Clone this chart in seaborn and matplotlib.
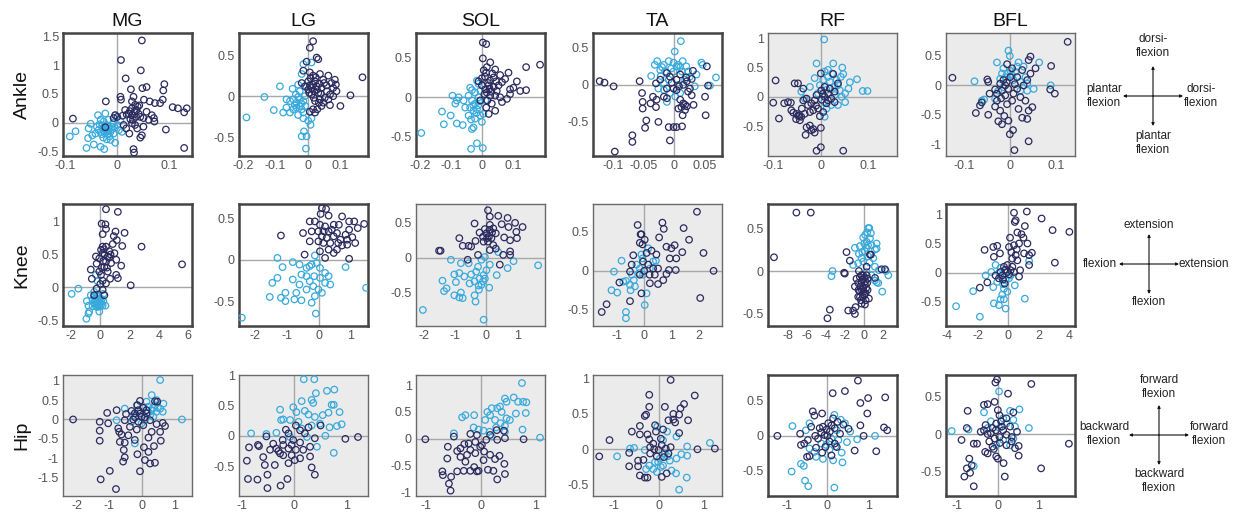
import matplotlib
matplotlib.use("Agg")
import matplotlib.pyplot as plt
import seaborn as sns
import pandas as pd

sns.set_style("white")
plt.rcParams["font.family"] = ["Liberation Sans", "DejaVu Sans"]

# ---------------- data (x, y) pairs ----------------
ROWS = ["Ankle", "Knee", "Hip"]
MUSCLES = ["MG", "LG", "SOL", "TA", "RF", "BFL"]
SERIES = ["light", "dark"]
COLORS = {"dark": "#2b2a5e", "light": "#37a9dc"}

ANKLE_MG_DARK = [(0.047,1.43),(0.007,1.09),(0.045,0.91),(0.016,0.77),(0.09,0.67),(0.088,0.56),(0.048,0.60),(0.056,0.62),(-0.022,0.37),(0.006,0.45),(0.007,0.40),(0.026,0.58),(0.031,0.45),(0.051,0.40),(0.062,0.37),(0.072,0.34),(0.087,0.40),(0.082,0.34),(0.106,0.27),(0.116,0.25),(0.133,0.25),(0.128,0.18),(0.093,-0.12),(0.128,-0.44),(0.031,-0.46),(0.032,-0.52),(-0.085,0.07),(0.015,0.22),(0.022,0.16),(0.028,0.13),(0.034,0.31),(0.037,0.22),(0.044,0.10),(0.050,0.08),(0.066,0.13),(0.07,0.08),(0.071,0.02),(0.034,-0.04),(0.017,-0.10),(0.023,-0.19),(0.044,-0.26),(0.047,-0.22),(0.012,-0.04),(-0.004,0.13),(-0.007,0.08),(0.0,0.10),(0.025,0.06),(0.056,0.19),(0.028,0.25),(0.039,0.28),(0.028,0.37),(0.05,-0.07),(0.028,-0.01),(-0.023,-0.08),(0.018,0.14),(0.033,0.19),(0.041,0.15),(0.036,0.10),(0.024,0.20),(0.010,0.12),(0.042,0.30),(0.030,0.05),(0.060,0.05),(0.038,-0.10)]
ANKLE_MG_LIGHT = [(-0.091,-0.24),(-0.08,-0.15),(-0.059,-0.44),(-0.056,-0.27),(-0.051,-0.02),(-0.055,-0.10),(-0.045,-0.38),(-0.037,0.13),(-0.032,-0.42),(-0.025,-0.46),(-0.02,-0.29),(-0.023,0.16),(-0.032,-0.16),(-0.039,-0.07),(-0.029,-0.06),(-0.02,-0.10),(-0.013,-0.16),(-0.026,0.02),(-0.017,0.05),(-0.008,0.0),(-0.004,-0.35),(-0.013,-0.30),(0.0,-0.04),(0.003,-0.13),(-0.007,-0.19),(-0.025,-0.14),(-0.042,-0.19),(-0.048,-0.22),(-0.018,-0.20),(-0.004,0.13),(0.006,0.03),(0.009,-0.16),(-0.032,0.05),(-0.036,-0.13),(-0.021,-0.04),(-0.010,-0.07),(-0.015,-0.24),(-0.027,-0.26),(-0.022,-0.12),(-0.016,-0.08),(-0.028,-0.10),(-0.012,-0.12),(-0.020,-0.05),(-0.024,-0.18),(-0.005,-0.09),(-0.034,-0.03),(-0.018,-0.15),(-0.030,-0.20)]

ANKLE_LG_DARK = [(0.016,0.67),(0.006,0.59),(-0.004,0.42),(0.027,0.47),(0.032,0.45),(0.168,0.23),(0.131,0.01),(0.10,-0.12),(0.068,-0.11),(0.042,-0.12),(0.016,-0.16),(0.006,-0.19),(0.022,-0.20),(-0.019,0.16),(-0.014,0.31),(0.006,0.29),(0.016,0.25),(0.037,0.27),(0.047,0.20),(0.063,0.25),(0.083,0.20),(0.073,0.16),(0.078,0.10),(0.068,0.02),(0.052,-0.02),(0.037,-0.04),(0.022,-0.06),(0.011,0.02),(0.001,0.08),(0.027,0.12),(0.042,0.10),(0.057,0.13),(0.022,0.18),(0.001,0.18),(-0.009,0.12),(0.032,0.04),(0.047,-0.08),(0.063,-0.04),(0.078,0.0),(0.088,0.06),(0.086,0.14),(0.029,-0.16),(0.012,0.10),(0.020,0.06),(0.035,0.15),(0.008,0.22),(0.004,0.04),(0.015,0.14),(0.028,0.08),(0.040,0.03),(0.018,-0.02),(0.006,0.13),(0.050,0.16),(0.024,0.23),(0.034,-0.08),(0.058,0.06)]
ANKLE_LG_LIGHT = [(-0.189,-0.26),(-0.134,-0.01),(-0.105,-0.17),(-0.086,0.12),(-0.076,-0.20),(-0.066,-0.14),(-0.055,-0.06),(-0.047,0.09),(-0.037,0.02),(-0.04,-0.11),(-0.030,-0.23),(-0.025,-0.04),(-0.019,-0.16),(-0.014,-0.27),(-0.019,-0.49),(-0.004,-0.49),(-0.006,-0.64),(-0.012,-0.43),(0.008,-0.35),(0.001,-0.30),(0.011,-0.27),(-0.055,-0.20),(-0.045,-0.16),(-0.035,-0.08),(-0.025,-0.12),(-0.014,-0.06),(-0.009,0.0),(-0.025,0.06),(-0.019,0.27),(-0.014,0.39),(0.011,0.41),(-0.004,0.12),(-0.030,0.14),(-0.045,-0.04),(-0.066,-0.04),(-0.014,-0.20),(-0.035,-0.14),(-0.020,-0.09),(-0.030,-0.01),(-0.008,-0.12)]

ANKLE_SOL_DARK = [(0.003,0.69),(0.014,0.67),(0.003,0.49),(0.027,0.44),(0.016,0.38),(0.043,0.35),(0.059,0.28),(0.086,0.31),(0.113,0.20),(0.143,0.38),(0.188,0.41),(0.143,0.09),(0.124,0.08),(0.102,0.12),(0.091,0.04),(0.081,-0.02),(0.065,-0.06),(0.043,-0.17),(0.022,-0.21),(0.014,-0.13),(0.0,0.24),(-0.011,0.20),(0.027,0.21),(0.038,0.25),(0.022,0.15),(0.038,0.13),(0.048,0.08),(0.011,0.10),(0.008,0.04),(0.027,0.02),(0.043,0.02),(0.054,0.15),(0.065,0.19),(0.075,0.23),(0.014,0.31),(0.0,0.15),(-0.005,-0.04),(0.018,-0.04),(0.032,-0.08),(0.059,0.0),(0.091,0.10),(0.020,0.18),(0.030,0.07),(0.010,0.26),(0.034,0.30),(0.016,0.06),(0.006,0.34),(0.046,0.20),(0.025,0.11)]
ANKLE_SOL_LIGHT = [(-0.196,-0.45),(-0.129,-0.18),(-0.123,-0.34),(-0.101,-0.23),(-0.095,0.02),(-0.086,-0.08),(-0.081,-0.04),(-0.075,0.0),(-0.081,-0.33),(-0.062,-0.35),(-0.054,-0.13),(-0.043,0.02),(-0.038,0.12),(-0.032,-0.04),(-0.027,-0.17),(-0.032,-0.40),(-0.027,-0.38),(-0.035,-0.65),(-0.016,-0.58),(0.003,-0.64),(-0.011,0.17),(-0.016,0.21),(-0.022,0.06),(-0.005,0.08),(-0.011,0.0),(-0.022,-0.08),(-0.038,-0.13),(-0.016,-0.15),(-0.005,-0.23),(-0.022,-0.27),(0.0,-0.31),(0.005,-0.21),(-0.043,-0.23),(-0.059,-0.04),(-0.032,0.09),(0.011,-0.04),(-0.028,-0.10),(-0.012,-0.10),(-0.018,-0.20),(-0.035,-0.28),(-0.008,-0.05)]

ANKLE_TA_DARK = [(-0.123,0.05),(-0.115,0.03),(-0.10,-0.02),(-0.098,-0.90),(-0.069,-0.68),(-0.069,-0.77),(-0.057,0.05),(-0.053,-0.11),(-0.052,-0.23),(-0.052,-0.32),(-0.046,-0.48),(-0.048,-0.58),(-0.039,-0.25),(-0.035,-0.16),(-0.030,-0.30),(-0.029,-0.20),(-0.026,-0.50),(-0.030,0.02),(-0.023,0.07),(-0.017,-0.16),(-0.012,-0.05),(-0.009,-0.57),(-0.007,-0.75),(-0.001,-0.57),(0.004,-0.57),(0.013,-0.56),(0.007,-0.32),(0.010,-0.20),(0.015,-0.25),(0.021,-0.29),(0.018,-0.34),(0.014,-0.41),(0.032,-0.27),(0.029,-0.14),(0.051,-0.16),(0.052,-0.41),(0.054,0.25),(0.056,-0.01),(0.031,0.19),(0.029,0.08),(0.021,0.05),(0.01,0.14),(0.004,0.07),(-0.001,-0.05),(-0.007,0.11),(-0.012,0.16),(0.015,0.0),(0.023,-0.09),(0.004,-0.07),(-0.012,-0.18),(0.018,-0.27),(0.012,-0.30),(0.020,0.10),(0.008,-0.02),(-0.004,0.03),(0.026,-0.05)]
ANKLE_TA_LIGHT = [(0.011,0.59),(0.001,0.45),(-0.028,0.32),(-0.032,0.27),(-0.038,0.12),(-0.023,0.20),(-0.017,0.27),(-0.009,0.32),(-0.001,0.30),(0.007,0.27),(0.014,0.32),(0.020,0.25),(0.023,0.18),(0.026,0.11),(0.037,0.14),(0.045,0.30),(0.047,0.27),(0.069,0.10),(0.059,-0.01),(0.034,-0.02),(-0.012,-0.23),(-0.017,0.02),(-0.009,0.07),(-0.001,0.18),(0.004,0.25),(0.013,0.18),(0.018,0.07),(-0.007,-0.11),(0.002,-0.16),(-0.017,-0.07),(-0.026,-0.05),(-0.022,0.12),(-0.015,0.18),(0.007,0.0),(0.010,-0.11),(-0.005,0.22),(0.010,0.24),(-0.020,0.24)]

ANKLE_RF_DARK = [(-0.095,0.28),(-0.10,-0.10),(-0.088,-0.37),(-0.077,-0.11),(-0.069,-0.09),(-0.063,-0.10),(-0.062,-0.23),(-0.055,0.23),(-0.048,0.23),(-0.058,-0.27),(-0.051,-0.29),(-0.044,-0.40),(-0.048,-0.32),(-0.041,-0.34),(-0.037,0.14),(-0.034,-0.29),(-0.030,-0.52),(-0.032,-0.65),(-0.023,-0.49),(-0.020,-0.57),(-0.013,-0.61),(-0.016,-0.55),(-0.009,-0.92),(0.0,-0.86),(0.0,-0.53),(-0.002,-0.33),(0.005,-0.26),(0.0,0.40),(0.026,0.39),(0.047,-0.92),(-0.037,-0.06),(-0.030,-0.03),(-0.027,-0.14),(-0.020,-0.11),(-0.013,-0.06),(-0.009,0.03),(0.001,0.11),(0.008,0.17),(0.015,0.06),(0.022,-0.03),(0.029,-0.09),(0.036,0.23),(0.012,-0.11),(-0.006,-0.20),(-0.016,-0.23),(-0.023,-0.26),(0.019,0.14),(0.029,0.09),(0.008,0.0),(-0.045,-0.33),(-0.052,-0.38),(0.002,-0.05),(-0.010,-0.15),(0.004,0.05),(-0.040,-0.20),(0.015,-0.06)]
ANKLE_RF_LIGHT = [(0.007,0.98),(-0.009,0.57),(0.026,0.57),(0.045,0.50),(0.015,0.46),(0.008,0.43),(0.047,0.39),(0.042,0.34),(0.061,0.25),(0.076,0.30),(0.088,0.10),(0.098,0.10),(0.051,-0.09),(0.036,-0.14),(0.029,0.03),(-0.013,0.32),(-0.023,0.17),(-0.034,-0.03),(-0.041,0.09),(0.005,0.29),(0.015,0.34),(0.033,0.29),(0.029,0.17),(0.040,0.11),(0.051,0.06),(0.044,0.0),(0.022,-0.14),(0.008,-0.34),(0.007,-0.09),(-0.006,0.06),(-0.002,0.20),(0.019,0.26),(0.058,0.14),(0.012,-0.20),(0.024,0.40),(0.036,0.20),(0.012,0.12)]

ANKLE_BFL_DARK = [(0.125,0.74),(-0.126,0.13),(-0.075,-0.47),(-0.062,-0.29),(-0.066,-0.34),(-0.050,0.10),(-0.048,0.06),(-0.048,-0.50),(-0.045,-0.14),(-0.033,-0.07),(-0.033,-0.36),(-0.029,-0.26),(-0.026,-0.61),(-0.018,-0.66),(-0.022,-0.43),(-0.013,-0.52),(-0.007,0.36),(-0.004,-0.60),(-0.001,-0.83),(0.006,-0.76),(0.009,-1.10),(0.018,-0.40),(0.026,-0.55),(0.037,-0.57),(0.040,-0.95),(0.048,-0.37),(0.040,-0.43),(0.033,-0.26),(0.044,0.49),(0.040,0.43),(0.044,0.20),(0.055,0.29),(0.089,0.33),(0.087,-0.07),(0.097,-0.14),(0.026,0.26),(0.015,0.14),(0.004,0.29),(0.0,0.14),(-0.015,0.09),(-0.022,0.03),(-0.011,0.0),(-0.004,-0.06),(-0.018,-0.09),(-0.029,-0.14),(0.007,-0.14),(0.015,-0.06),(0.022,-0.20),(0.004,-0.26),(-0.007,-0.32),(-0.011,-0.17),(0.029,0.0),(0.037,0.09),(-0.008,0.05),(0.010,0.02),(-0.020,-0.22)]
ANKLE_BFL_LIGHT = [(-0.004,0.59),(-0.001,0.50),(-0.029,0.39),(-0.078,0.07),(-0.062,-0.26),(-0.057,-0.24),(-0.033,-0.23),(0.018,0.39),(0.029,0.32),(0.063,0.39),(0.051,-0.06),(0.088,0.0),(0.033,0.14),(0.037,0.03),(0.022,0.06),(0.007,0.09),(-0.007,0.20),(-0.018,0.20),(-0.015,0.29),(-0.022,0.11),(0.011,0.23),(0.015,0.32),(0.004,0.17),(-0.015,-0.03),(-0.026,-0.09),(0.037,-0.09),(0.022,-0.09),(0.000,0.25),(-0.010,0.14)]

KNEE_MG_DARK = [(0.39,1.19),(1.20,1.15),(0.09,0.97),(0.35,0.96),(0.39,0.89),(0.16,0.81),(1.04,0.85),(1.66,0.83),(0.92,0.78),(1.13,0.72),(2.82,0.62),(1.50,0.63),(5.59,0.35),(0.85,0.66),(0.16,0.62),(0.39,0.62),(0.05,0.57),(0.62,0.55),(0.97,0.52),(-0.30,0.47),(-0.07,0.44),(-0.25,0.36),(0.39,0.39),(0.74,0.37),(1.09,0.42),(1.43,0.33),(0.28,0.31),(-0.65,0.27),(-0.07,0.24),(0.51,0.24),(1.09,0.19),(1.20,0.14),(0.67,0.13),(0.16,0.10),(0.39,0.06),(-0.58,0.13),(2.08,0.03),(-0.25,-0.02),(0.16,-0.04),(-0.42,-0.12),(0.28,-0.12),(0.05,0.19),(0.16,0.52),(0.51,0.47),(0.25,0.58),(0.60,0.45),(0.10,0.30),(0.30,0.50),(0.70,0.50),(0.45,0.30),(0.20,0.40),(0.00,0.05)]
KNEE_MG_LIGHT = [(-1.96,-0.10),(-1.50,-0.02),(-0.92,-0.21),(-0.81,-0.28),(-0.76,-0.37),(-0.81,-0.40),(-0.95,-0.48),(-0.42,-0.14),(-0.30,0.19),(-0.18,0.09),(-0.65,-0.12),(-0.53,-0.19),(-0.42,-0.24),(-0.30,-0.29),(-0.07,-0.37),(0.05,-0.27),(0.21,-0.21),(-0.18,-0.17),(-0.07,-0.19),(0.05,-0.22),(-0.30,-0.22),(0.16,-0.28),(-0.53,-0.29),(-0.07,-0.29),(-0.18,-0.24),(-0.42,-0.07),(0.35,-0.28),(-0.12,-0.20),(-0.25,-0.26),(0.10,-0.18),(-0.20,-0.30),(-0.35,-0.18),(0.00,-0.25),(-0.10,-0.14),(-0.25,-0.12),(0.20,-0.10)]

KNEE_LG_DARK = [(0.09,0.62),(0.22,0.61),(0.05,0.55),(0.30,0.53),(0.72,0.52),(1.41,0.43),(1.10,0.46),(0.94,0.46),(0.62,0.42),(-0.29,0.46),(-0.13,0.46),(0.03,0.42),(0.19,0.40),(0.46,0.42),(1.21,0.38),(0.94,0.36),(-1.19,0.29),(-0.50,0.32),(-0.23,0.34),(-0.02,0.34),(0.30,0.34),(0.56,0.32),(0.83,0.30),(1.04,0.27),(1.13,0.20),(0.88,0.18),(0.72,0.17),(0.56,0.12),(0.46,0.08),(0.94,0.01),(-0.45,0.06),(0.19,0.02),(-0.29,0.22),(-0.02,0.22),(0.14,0.20),(0.35,0.20),(0.24,0.26),(0.46,0.28),(0.09,0.28),(0.30,0.12),(0.03,0.10),(0.67,0.24),(0.88,0.24),(0.40,0.36),(0.15,0.34),(0.60,0.20)]
KNEE_LG_LIGHT = [(-2.41,-0.70),(-1.30,0.02),(-1.14,-0.09),(-1.46,-0.28),(-1.54,-0.45),(-1.30,-0.22),(-1.19,-0.46),(-1.05,-0.40),(-1.05,-0.50),(-0.82,-0.24),(-0.77,-0.48),(-0.55,-0.49),(-0.82,-0.03),(-0.61,-0.06),(-0.39,-0.10),(-0.23,-0.06),(-0.13,0.05),(-0.07,-0.04),(-0.55,-0.18),(-0.39,-0.20),(-0.29,-0.26),(-0.18,-0.32),(-0.02,-0.36),(0.09,-0.40),(-0.13,-0.44),(-0.23,-0.52),(-0.10,-0.65),(0.19,-0.16),(0.35,-0.30),(0.83,-0.09),(1.47,-0.34),(-0.39,-0.36),(-0.61,-0.30),(-0.71,-0.40),(0.03,-0.22),(0.19,-0.28),(0.03,-0.10),(0.30,-0.20),(-0.30,-0.08),(-0.15,-0.20)]

KNEE_SOL_DARK = [(0.05,0.68),(0.11,0.59),(0.38,0.60),(0.68,0.57),(0.92,0.50),(1.16,0.44),(-0.38,0.49),(0.49,0.48),(0.71,0.44),(0.96,0.37),(0.98,0.28),(0.76,0.25),(0.57,0.29),(0.30,0.35),(0.11,0.47),(-0.05,0.41),(-0.22,0.36),(-0.11,0.30),(-0.35,0.24),(-0.57,0.17),(-0.87,0.28),(-0.76,0.17),(-0.49,0.16),(-1.52,0.10),(-1.47,0.10),(-0.60,-0.03),(-0.27,0.04),(0.0,0.35),(0.05,0.23),(0.16,0.28),(0.22,0.18),(0.11,0.11),(0.54,0.04),(0.76,0.09),(0.76,0.04),(0.43,-0.10),(0.22,0.42),(-0.09,0.23),(0.30,0.13),(0.08,0.30),(0.18,0.36),(0.10,0.40),(0.02,0.28)]
KNEE_SOL_LIGHT = [(-2.04,-0.75),(-1.14,-0.03),(-1.41,-0.33),(-1.28,-0.44),(-1.36,-0.48),(-1.03,-0.24),(-0.98,-0.35),(-1.03,-0.54),(-0.82,-0.50),(-0.76,-0.58),(-0.87,-0.57),(-0.82,-0.08),(-0.87,-0.22),(-0.71,-0.27),(-0.57,-0.08),(-0.49,-0.24),(-0.54,-0.37),(-0.38,-0.54),(-0.35,-0.63),(-0.24,-0.46),(-0.11,-0.34),(-0.09,-0.25),(-0.27,-0.13),(-0.16,-0.03),(-0.05,0.01),(0.11,-0.10),(0.09,-0.43),(-0.09,-0.89),(0.33,-0.25),(0.38,0.08),(0.87,-0.05),(0.68,-0.15),(1.66,-0.11),(-0.38,-0.34),(-0.22,-0.30),(-0.33,-0.20),(0.0,-0.18),(-0.16,-0.39),(-0.25,-0.40),(-0.05,-0.30)]

KNEE_TA_DARK = [(-1.56,-0.53),(-1.38,-0.43),(-0.91,-0.15),(-0.24,0.59),(-0.13,0.47),(-0.10,0.47),(0.02,0.40),(-0.16,0.36),(-0.06,0.34),(0.67,0.62),(0.72,0.54),(0.55,0.43),(1.45,0.55),(1.65,0.40),(1.94,0.76),(2.18,0.23),(2.55,0.0),(2.06,-0.35),(1.12,0.33),(0.82,0.31),(1.00,0.29),(1.40,0.24),(0.94,0.16),(1.18,0.16),(0.91,0.01),(1.16,0.01),(0.82,-0.04),(0.70,-0.12),(0.51,-0.17),(0.21,-0.16),(0.39,-0.05),(-0.40,0.20),(-0.46,0.08),(-0.52,-0.01),(-0.52,-0.39),(0.09,0.23),(0.27,0.26),(0.45,0.21),(-0.04,0.12),(0.15,0.08),(0.33,0.03),(-0.16,-0.05),(-0.10,-0.29),(0.51,0.03),(0.20,-0.05),(0.00,0.00)]
KNEE_TA_LIGHT = [(-1.11,-0.01),(-1.20,-0.25),(-0.99,-0.28),(-0.83,0.13),(-0.67,-0.13),(-0.67,-0.53),(-0.67,-0.61),(-0.50,-0.25),(-0.38,-0.12),(-0.18,-0.03),(-0.06,0.16),(0.02,-0.44),(0.09,-0.29),(0.15,0.29),(0.33,0.12),(0.43,0.13),(-0.28,0.08),(-0.16,0.03),(-0.04,-0.05),(-0.52,-0.18),(-0.34,-0.20),(-0.77,-0.14),(-0.10,0.21),(0.21,0.03),(-0.45,-0.05)]

KNEE_RF_DARK = [(-7.12,0.68),(-5.61,0.68),(-9.47,0.16),(-3.61,-0.45),(-3.86,-0.55),(-1.86,0.22),(-1.51,0.12),(-2.04,-0.03),(-2.11,-0.02),(-1.68,-0.46),(-1.16,-0.46),(-0.98,-0.50),(-0.91,-0.42),(-0.63,-0.30),(-0.28,-0.38),(0.07,-0.39),(0.49,-0.32),(0.70,0.19),(0.25,0.05),(0.35,-0.09),(-0.11,-0.05),(-0.46,-0.07),(-0.28,-0.13),(0.07,-0.16),(-0.11,-0.20),(-0.46,-0.24),(0.14,-0.26),(-0.63,-0.14),(-0.81,-0.09),(0.25,-0.05),(-0.98,-0.18),(0.0,-0.28),(-0.35,-0.34),(0.35,-0.22),(-0.56,0.0),(1.82,0.02),(2.18,0.02),(1.13,-0.08),(0.60,0.19),(-0.20,-0.10),(0.10,-0.12),(-0.40,-0.18),(0.20,-0.20),(-0.15,-0.30),(-0.30,-0.05),(0.00,-0.08),(-0.60,-0.22),(0.30,-0.14),(-0.05,-0.24),(-0.25,-0.22),(0.15,-0.34),(-0.45,-0.30)]
KNEE_RF_LIGHT = [(-3.33,0.0),(-3.44,-0.06),(0.42,0.50),(-0.11,0.39),(0.70,0.44),(0.25,0.34),(0.77,0.30),(1.30,0.32),(1.30,0.26),(-0.46,0.29),(-0.98,0.27),(-0.56,0.20),(0.07,0.23),(0.42,0.17),(0.95,0.15),(-0.11,0.11),(-0.63,0.09),(-1.16,0.07),(1.12,0.05),(1.54,0.01),(1.12,-0.11),(1.47,-0.14),(1.89,-0.24),(0.25,-0.01),(0.77,-0.05),(-0.28,0.15),(0.25,0.27),(0.60,0.38),(2.53,-0.05),(2.28,0.0),(1.31,-0.13),(0.53,0.50),(1.13,0.25),(0.10,0.42),(0.40,0.30),(-0.20,0.22),(0.55,0.10),(0.00,0.32),(0.30,0.45)]

KNEE_BFL_DARK = [(0.37,1.03),(1.21,1.05),(0.42,0.87),(0.48,0.90),(2.18,0.93),(1.08,0.80),(2.90,0.73),(4.00,0.70),(0.11,0.60),(0.59,0.69),(0.86,0.66),(0.99,0.60),(-1.56,0.39),(-0.99,0.44),(-0.73,0.46),(-0.95,0.27),(-0.55,0.33),(0.04,0.44),(0.37,0.47),(0.70,0.50),(1.25,0.50),(1.03,0.33),(1.54,0.34),(1.36,0.30),(1.36,0.13),(3.05,0.17),(0.26,0.24),(0.59,0.21),(0.77,0.04),(0.70,-0.07),(-0.07,0.13),(-0.29,0.10),(-0.51,0.01),(-0.84,-0.05),(-1.38,-0.17),(-1.87,-0.26),(-0.24,-0.19),(-0.62,-0.10),(0.15,0.04),(0.37,0.01),(-0.07,0.01),(-0.40,-0.05),(0.26,0.10),(0.48,0.30),(-0.20,0.05),(0.05,-0.03),(-0.35,-0.12),(0.55,0.40),(0.20,0.35)]
KNEE_BFL_LIGHT = [(-3.43,-0.58),(-2.31,-0.32),(-1.87,-0.76),(-1.49,-0.05),(-1.12,0.01),(-0.99,-0.25),(-0.95,-0.53),(-0.62,-0.56),(-0.51,-0.46),(-0.29,-0.46),(-0.18,-0.62),(-0.40,-0.38),(-0.73,-0.16),(-0.84,0.13),(-0.51,0.08),(-0.18,-0.13),(-0.29,-0.28),(0.04,-0.10),(0.42,-0.22),(1.08,-0.45),(1.36,0.20),(-0.07,-0.33),(0.15,-0.05),(-0.51,-0.07),(-0.35,-0.20),(-0.60,0.00)]

HIP_MG_DARK = [(-2.11,0.0),(-1.29,-0.06),(-1.29,-0.29),(-1.29,-0.55),(-1.26,-1.55),(-0.98,-1.33),(-0.79,-1.80),(-1.03,-0.10),(-1.06,0.17),(-0.77,0.24),(-0.72,-0.23),(-0.69,-0.32),(-0.62,-0.39),(-0.67,-0.58),(-0.52,-0.60),(-0.55,-0.79),(-0.52,-0.98),(-0.57,-1.09),(-0.48,0.14),(-0.36,-0.19),(-0.41,-0.41),(-0.21,-0.53),(-0.13,-0.90),(-0.05,-1.34),(0.07,-0.72),(0.10,-1.05),(0.21,-0.84),(0.26,-1.14),(0.41,-1.12),(0.38,-0.69),(0.59,-0.55),(0.57,-0.32),(0.72,-0.17),(0.65,-0.09),(0.46,-0.12),(0.48,0.46),(0.41,0.47),(-0.05,0.48),(-0.31,0.22),(-0.21,0.16),(-0.10,0.24),(0.0,0.07),(0.15,0.16),(0.26,-0.02),(0.05,-0.15),(-0.10,-0.06),(-0.26,0.0),(-0.15,-0.26),(0.31,-0.32),(0.21,-0.47),(0.15,0.24),(-0.13,0.37),(-0.52,-0.02),(-0.05,0.15),(0.05,0.30),(-0.20,0.05),(0.10,0.05)]
HIP_MG_LIGHT = [(0.57,1.02),(0.31,0.63),(1.24,0.0),(-0.52,0.28),(-0.77,-0.02),(-0.21,-0.62),(-0.15,0.37),(0.15,0.46),(0.41,0.37),(0.57,0.28),(0.65,0.20),(0.46,0.20),(0.31,0.24),(0.26,0.11),(0.36,0.07),(0.05,0.33),(-0.05,0.20),(0.10,-0.02),(-0.26,0.11),(0.21,0.33),(0.46,0.50),(0.67,0.41),(0.0,-0.10),(-0.31,-0.06),(0.35,0.30),(0.20,0.18),(0.50,0.30)]

HIP_LG_DARK = [(-0.90,-0.41),(-0.86,-0.19),(-0.69,-0.15),(-0.67,-0.17),(-0.88,-0.71),(-0.70,-0.72),(-0.51,-0.86),(-0.51,-0.64),(-0.53,-0.01),(-0.56,-0.48),(-0.59,-0.35),(-0.46,-0.23),(-0.37,-0.48),(-0.27,-0.29),(-0.26,-0.82),(-0.13,-0.71),(-0.11,-0.45),(-0.05,-0.32),(0.01,-0.40),(0.03,-0.23),(-0.02,-0.07),(-0.11,0.04),(-0.16,0.10),(0.03,0.17),(0.11,0.09),(0.11,-0.11),(0.17,-0.23),(0.30,-0.18),(0.30,-0.34),(0.33,-0.52),(0.39,-0.64),(0.39,-0.04),(0.27,0.14),(0.20,0.04),(0.50,0.17),(0.97,-0.05),(1.21,-0.02),(-0.40,-0.13),(-0.21,-0.15),(-0.11,-0.21),(-0.34,-0.21),(-0.21,-0.32),(0.11,-0.37),(-0.22,-0.07),(-0.30,-0.25),(-0.05,-0.15)]
HIP_LG_LIGHT = [(0.18,0.93),(0.38,0.93),(0.41,0.70),(0.62,0.74),(0.76,0.76),(-0.02,0.47),(0.14,0.57),(0.33,0.59),(0.36,0.54),(-0.27,0.43),(-0.21,0.27),(-0.25,0.26),(0.04,0.39),(0.20,0.41),(0.27,0.35),(0.39,0.31),(0.54,0.34),(0.65,0.38),(0.71,0.51),(0.75,0.51),(0.86,0.39),(0.90,0.19),(0.81,0.16),(0.67,0.14),(0.49,0.20),(0.59,0.0),(0.43,-0.18),(0.75,-0.28),(-0.82,0.04),(-0.53,0.03),(-0.34,0.05),(-0.08,0.26),(0.08,0.23),(0.14,0.12),(-0.08,-0.02),(0.24,-0.02),(0.33,0.17)]

HIP_SOL_DARK = [(-1.01,-0.01),(-0.49,0.04),(-0.60,-0.15),(-0.61,-0.37),(-0.70,-0.61),(-0.69,-0.68),(-0.54,-0.71),(-0.58,-0.84),(-0.55,-0.97),(-0.43,-0.61),(-0.37,-0.34),(-0.31,-0.60),(-0.28,-0.43),(-0.19,-0.60),(-0.12,-0.53),(-0.07,-0.61),(-0.04,-0.60),(0.13,-0.58),(0.23,-0.60),(0.30,-0.76),(0.44,-0.66),(0.43,-0.47),(0.34,-0.32),(0.26,-0.38),(0.17,-0.30),(0.06,-0.24),(-0.10,-0.27),(-0.19,-0.21),(-0.25,-0.30),(-0.37,-0.18),(-0.43,-0.23),(-0.22,-0.09),(-0.10,-0.06),(0.02,-0.12),(0.10,-0.02),(0.17,0.07),(0.29,0.16),(0.42,0.15),(0.44,0.01),(0.30,-0.02),(0.78,-0.01),(-0.07,0.07),(-0.19,0.09),(-0.01,-0.15),(-0.30,-0.10),(0.05,-0.40)]
HIP_SOL_LIGHT = [(0.75,1.04),(0.44,0.75),(0.47,0.69),(0.60,0.77),(0.68,0.69),(0.77,0.69),(0.83,0.68),(0.82,0.48),(0.64,0.47),(0.53,0.35),(0.47,0.38),(0.38,0.50),(0.30,0.57),(0.35,0.60),(0.20,0.57),(0.12,0.50),(0.17,0.44),(0.26,0.35),(0.36,0.29),(0.44,0.24),(0.28,0.21),(0.16,0.13),(0.05,0.15),(-0.04,0.17),(-0.12,0.44),(-0.28,0.44),(-0.34,0.40),(-0.13,0.21),(-0.49,0.10),(0.76,0.17),(1.08,0.02),(0.08,0.35),(0.44,0.13),(0.20,0.04)]

HIP_TA_DARK = [(0.27,0.98),(-0.21,0.77),(0.81,0.76),(-0.21,0.60),(0.14,0.60),(0.57,0.64),(0.49,0.58),(0.46,0.49),(0.33,0.50),(0.33,0.42),(0.37,0.38),(0.22,0.41),(-0.31,0.47),(-0.28,0.49),(-0.42,0.33),(-0.60,0.25),(-1.10,0.13),(-1.33,-0.10),(-0.42,0.21),(-0.25,0.21),(-0.21,0.14),(-0.08,0.34),(-0.06,0.25),(0.10,0.28),(0.46,0.23),(0.66,0.41),(0.87,0.0),(1.26,0.01),(-0.66,-0.05),(-0.66,-0.24),(-0.46,-0.16),(-0.46,-0.24),(-0.34,-0.15),(-0.42,-0.37),(-0.31,-0.40),(-0.25,-0.40),(0.07,-0.39),(0.18,-0.34),(-0.19,0.03),(-0.12,0.08),(0.0,-0.01),(0.07,0.06),(0.16,0.01),(0.22,-0.06),(0.12,-0.11),(-0.04,-0.10),(0.27,0.03),(-0.19,-0.06),(0.05,0.15),(-0.10,0.00)]
HIP_TA_LIGHT = [(-0.93,-0.10),(-0.64,0.01),(-0.55,0.02),(-0.31,-0.01),(-0.28,-0.28),(-0.21,-0.23),(-0.12,-0.28),(-0.04,-0.32),(-0.01,-0.18),(0.10,-0.23),(0.29,-0.30),(0.39,-0.34),(0.46,-0.57),(0.63,-0.40),(0.40,-0.13),(0.51,-0.07),(0.64,0.04),(0.64,-0.09),(0.40,0.18),(0.19,0.25),(0.10,0.13),(0.14,-0.06),(1.15,0.09),(-0.03,0.32),(0.03,-0.13),(0.25,-0.16),(-0.08,-0.18),(0.20,-0.10),(0.05,-0.25)]

HIP_RF_DARK = [(-1.23,0.0),(0.75,0.79),(0.43,0.64),(0.13,0.61),(0.81,0.47),(1.00,0.54),(0.98,0.32),(1.42,0.55),(1.39,0.12),(1.20,-0.22),(0.89,0.0),(0.81,0.15),(0.67,-0.21),(0.52,0.10),(0.39,0.16),(-0.36,0.35),(-0.32,0.29),(-0.13,0.32),(-0.67,0.03),(-0.65,-0.13),(-0.57,-0.11),(-0.50,-0.30),(-0.44,-0.29),(-0.28,-0.17),(-0.13,-0.24),(-0.05,-0.16),(0.18,-0.11),(0.23,-0.16),(0.10,-0.28),(-0.19,0.11),(-0.11,0.13),(0.02,0.18),(0.14,0.25),(0.06,0.06),(-0.07,0.01),(0.18,0.11),(0.31,0.03),(-0.23,-0.04),(-0.40,0.13),(-0.48,-0.06),(1.47,0.08),(0.05,-0.08),(-0.02,0.09),(-0.15,0.05),(0.10,0.15),(0.00,0.00),(-0.30,0.00),(0.25,0.20)]
HIP_RF_LIGHT = [(-0.88,-0.51),(-0.86,0.14),(-0.55,-0.64),(-0.47,-0.72),(-0.58,-0.43),(-0.65,-0.40),(0.17,-0.74),(0.14,-0.35),(0.37,-0.38),(0.35,-0.24),(0.48,-0.09),(0.56,0.06),(0.73,-0.05),(1.17,0.0),(0.33,0.23),(0.17,0.30),(-0.44,0.18),(-0.53,0.08),(-0.44,-0.18),(-0.32,-0.23),(-0.15,-0.11),(-0.03,-0.13),(0.10,-0.04),(0.27,-0.06),(-0.11,-0.33),(-0.28,-0.30),(0.23,0.08),(0.43,0.18),(0.05,-0.20),(0.20,-0.15)]

HIP_BFL_DARK = [(-0.02,0.73),(-0.06,0.69),(0.82,0.67),(0.25,0.54),(-0.08,0.43),(-0.34,0.39),(-0.25,0.40),(-0.74,0.31),(0.0,0.32),(0.04,0.25),(0.38,0.29),(0.21,0.21),(-0.76,0.08),(-0.89,-0.08),(-0.59,-0.13),(-0.51,-0.13),(-0.34,0.05),(-0.30,0.12),(-0.31,-0.24),(-0.25,-0.26),(-0.70,-0.33),(-0.76,-0.46),(-0.68,-0.52),(-0.82,-0.57),(-0.59,-0.70),(-0.64,-0.42),(-0.04,-0.30),(0.0,-0.33),(0.14,-0.39),(0.17,-0.57),(0.51,-0.29),(0.42,-0.19),(0.51,-0.16),(0.34,-0.10),(0.47,0.03),(1.06,-0.46),(1.74,-0.13),(-0.13,0.08),(-0.17,0.01),(-0.08,-0.06),(0.04,-0.04),(0.13,0.05),(0.21,-0.01),(0.30,0.10),(0.08,0.17),(-0.04,0.14),(-0.21,-0.10),(-0.13,-0.17),(0.21,-0.15),(0.34,-0.04),(-0.42,0.03),(-0.05,0.05),(0.05,-0.12),(-0.25,0.00),(0.10,0.10),(-0.10,-0.20)]
HIP_BFL_LIGHT = [(-1.13,0.04),(-0.72,0.06),(-0.59,-0.43),(-0.34,0.29),(0.03,0.57),(0.30,0.31),(0.53,0.33),(0.76,0.08),(0.21,0.14),(0.38,0.19),(0.42,0.10),(-0.17,0.17),(-0.25,0.08),(0.04,0.08),(0.13,-0.08),(-0.04,-0.15),(0.30,-0.15),(0.38,-0.06),(0.13,0.21)]

PANEL_DATA = {
    ("Ankle", "MG"): (ANKLE_MG_LIGHT, ANKLE_MG_DARK),
    ("Ankle", "LG"): (ANKLE_LG_LIGHT, ANKLE_LG_DARK),
    ("Ankle", "SOL"): (ANKLE_SOL_LIGHT, ANKLE_SOL_DARK),
    ("Ankle", "TA"): (ANKLE_TA_LIGHT, ANKLE_TA_DARK),
    ("Ankle", "RF"): (ANKLE_RF_LIGHT, ANKLE_RF_DARK),
    ("Ankle", "BFL"): (ANKLE_BFL_LIGHT, ANKLE_BFL_DARK),
    ("Knee", "MG"): (KNEE_MG_LIGHT, KNEE_MG_DARK),
    ("Knee", "LG"): (KNEE_LG_LIGHT, KNEE_LG_DARK),
    ("Knee", "SOL"): (KNEE_SOL_LIGHT, KNEE_SOL_DARK),
    ("Knee", "TA"): (KNEE_TA_LIGHT, KNEE_TA_DARK),
    ("Knee", "RF"): (KNEE_RF_LIGHT, KNEE_RF_DARK),
    ("Knee", "BFL"): (KNEE_BFL_LIGHT, KNEE_BFL_DARK),
    ("Hip", "MG"): (HIP_MG_LIGHT, HIP_MG_DARK),
    ("Hip", "LG"): (HIP_LG_LIGHT, HIP_LG_DARK),
    ("Hip", "SOL"): (HIP_SOL_LIGHT, HIP_SOL_DARK),
    ("Hip", "TA"): (HIP_TA_LIGHT, HIP_TA_DARK),
    ("Hip", "RF"): (HIP_RF_LIGHT, HIP_RF_DARK),
    ("Hip", "BFL"): (HIP_BFL_LIGHT, HIP_BFL_DARK),
}

# axis limits and ticks per panel
XLIMS = [[(-0.104,0.143),(-0.212,0.185),(-0.213,0.204),(-0.134,0.079),(-0.111,0.16),(-0.14,0.141)],
         [(-2.55,6.27),(-2.5,1.53),(-2.26,1.88),(-1.88,2.86),(-10.1,3.44),(-4.09,4.37)],
         [(-2.42,1.55),(-1.05,1.40),(-1.18,1.17),(-1.47,1.42),(-1.46,1.71),(-1.27,1.89)]]
YLIMS = [[(-0.58,1.56),(-0.73,0.77),(-0.74,0.81),(-0.96,0.70),(-1.01,1.09),(-1.2,0.89)],
         [(-0.59,1.27),(-0.8,0.67),(-0.98,0.77),(-0.71,0.86),(-0.64,0.78),(-0.92,1.18)],
         [(-1.98,1.15),(-0.99,1.0),(-1.07,1.19),(-0.66,1.05),(-0.86,0.87),(-0.83,0.79)]]
XTICKS = [[[-0.1,0,0.1],[-0.2,-0.1,0,0.1],[-0.2,-0.1,0,0.1],[-0.1,-0.05,0,0.05],[-0.1,0,0.1],[-0.1,0,0.1]],
          [[-2,0,2,4,6],[-2,-1,0,1],[-2,-1,0,1],[-1,0,1,2],[-8,-6,-4,-2,0,2],[-4,-2,0,2,4]],
          [[-2,-1,0,1],[-1,0,1],[-1,0,1],[-1,0,1],[-1,0,1],[-1,0,1]]]
YTICKS = [[[-0.5,0,0.5,1,1.5],[-0.5,0,0.5],[-0.5,0,0.5],[-0.5,0,0.5],[-0.5,0,0.5,1],[-1,-0.5,0,0.5]],
          [[-0.5,0,0.5,1],[-0.5,0,0.5],[-0.5,0,0.5],[-0.5,0,0.5],[-0.5,0,0.5],[-0.5,0,0.5,1]],
          [[-1.5,-1,-0.5,0,0.5,1],[-0.5,0,0.5,1],[-1,-0.5,0,0.5,1],[-0.5,0,0.5,1],[-0.5,0,0.5],[-0.5,0,0.5]]]
GRAY_BG = [[False,False,False,False,True,True],
           [False,False,True,True,False,False],
           [True,True,True,True,False,False]]

DIAGRAMS = [
    {"up": "dorsi-\nflexion", "down": "plantar\nflexion", "left": "plantar\nflexion", "right": "dorsi-\nflexion"},
    {"up": "extension", "down": "flexion", "left": "flexion", "right": "extension"},
    {"up": "forward\nflexion", "down": "backward\nflexion", "left": "backward\nflexion", "right": "forward\nflexion"},
]

# ---------------- build long table ----------------
records = []
for (row, mus), (light, dark) in PANEL_DATA.items():
    for name, pts in (("light", light), ("dark", dark)):
        for x, y in pts:
            records.append({"row": row, "muscle": mus, "series": name, "x": x, "y": y})
df = pd.DataFrame(records)

# ---------------- figure ----------------
W, H = 1238, 515
fig = plt.figure(figsize=(W / 100, H / 100), dpi=100)

left_px = [63, 239, 416, 593, 768, 946]
ax_w = 129
rows_px = [(33, 156), (204, 326), (375, 496)]

def fmt(v):
    return "%g" % v

for r, row in enumerate(ROWS):
    top, bot = rows_px[r]
    for c, mus in enumerate(MUSCLES):
        ax = fig.add_axes([left_px[c] / W, 1 - bot / H, ax_w / W, (bot - top) / H])
        gray = GRAY_BG[r][c]
        ax.set_facecolor("#ebebeb" if gray else "white")
        ax.axhline(0, color="#a8a8a8", lw=1.0, zorder=1)
        ax.axvline(0, color="#a8a8a8", lw=1.0, zorder=1)
        sub = df[(df["row"] == row) & (df["muscle"] == mus)]
        for s in SERIES:
            d = sub[sub["series"] == s]
            sns.scatterplot(data=d, x="x", y="y", color=COLORS[s], s=22,
                            linewidth=0.9, ax=ax, legend=False, zorder=3)
            coll = ax.collections[-1]
            coll.set_edgecolor(COLORS[s])
            coll.set_facecolor("none")
        ax.set_xlim(*XLIMS[r][c])
        ax.set_ylim(*YLIMS[r][c])
        ax.set_xticks(XTICKS[r][c])
        ax.set_yticks(YTICKS[r][c])
        ax.set_xticklabels([fmt(v) for v in XTICKS[r][c]])
        ax.set_yticklabels([fmt(v) for v in YTICKS[r][c]])
        ax.tick_params(axis="both", length=0, pad=3, labelsize=9, labelcolor="#555555")
        ax.set_xlabel("")
        ax.set_ylabel("")
        for sp in ax.spines.values():
            sp.set_visible(True)
            if gray:
                sp.set_color("#6a6a6a")
                sp.set_linewidth(1.0)
            else:
                sp.set_color("#444444")
                sp.set_linewidth(1.8)
        if r == 0:
            ax.set_title(mus, fontsize=14, pad=5, color="#111111")
    yc = 1 - (top + bot) / 2 / H
    fig.text(22 / W, yc, row, rotation=90, fontsize=14, ha="center", va="center", color="#111111")

# ---------------- direction diagrams ----------------
ov = fig.add_axes([0, 0, 1, 1])
ov.set_xlim(0, W)
ov.set_ylim(H, 0)
ov.axis("off")
centers = [(1153, 96), (1149, 264), (1159, 435)]
half_len = (30, 30)
label_pos = [
    {"up": (1153, 46), "down": (1153, 143), "left": (1104, 96), "right": (1201, 96)},
    {"up": (1149, 225), "down": (1149, 302), "left": (1100, 264), "right": (1204, 264)},
    {"up": (1159, 387), "down": (1159, 481), "left": (1104, 434), "right": (1209, 434)},
]
for i, (cx, cy) in enumerate(centers):
    hx, hy = half_len
    for dx, dy in ((hx, 0), (-hx, 0), (0, hy), (0, -hy)):
        ov.annotate("", xy=(cx + dx, cy + dy), xytext=(cx, cy),
                    arrowprops=dict(arrowstyle="-|>", lw=0.8, color="#111111",
                                    mutation_scale=4, shrinkA=0, shrinkB=0))
    for k, txt in DIAGRAMS[i].items():
        tx, ty = label_pos[i][k]
        ov.text(tx, ty, txt, ha="center", va="center", fontsize=8.5, color="#222222",
                linespacing=1.3)

fig.savefig("out.png", dpi=100)
